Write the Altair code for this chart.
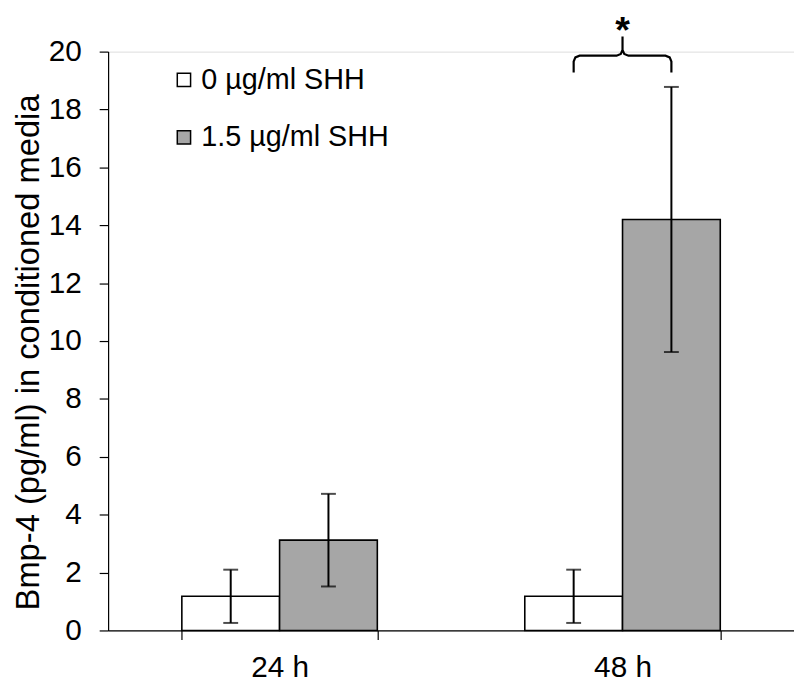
import altair as alt
import pandas as pd

# ---- data ----
times = ["24 h", "48 h"]
treatments = ["0 µg/ml SHH", "1.5 µg/ml SHH"]
mean_0 = [1.18, 1.18]
sd_0 = [0.92, 0.92]
mean_15 = [3.12, 14.2]
sd_15 = [1.6, 4.58]
bar_colors = ["#ffffff", "#a6a6a6"]
y_ticks = [0, 2, 4, 6, 8, 10, 12, 14, 16, 18, 20]

# significance brace over the 48 h pair (x in band units 0..2, y in pg/ml)
brace_x = [1.3575, 1.3575, 1.3625, 1.3748, 1.4827, 1.4950, 1.5, 1.5, 1.5, 1.5050, 1.5173, 1.6252, 1.6375, 1.6425, 1.6425]
brace_y = [19.28, 19.66, 19.80, 19.86, 19.86, 19.92, 20.06, 20.52, 20.06, 19.92, 19.86, 19.86, 19.80, 19.66, 19.28]
star_x = [1.5]
star_y = [20.3]
star_text = ["*"]

rows = []
for i, t in enumerate(times):
    rows.append({"time": t, "treat": treatments[0], "mean": mean_0[i],
                 "lo": mean_0[i] - sd_0[i], "hi": mean_0[i] + sd_0[i]})
    rows.append({"time": t, "treat": treatments[1], "mean": mean_15[i],
                 "lo": mean_15[i] - sd_15[i], "hi": mean_15[i] + sd_15[i]})
df = pd.DataFrame(rows)
brace_df = pd.DataFrame({"x": brace_x, "y": brace_y, "o": list(range(len(brace_x)))})
star_df = pd.DataFrame({"x": star_x, "y": star_y, "t": star_text})

FONT = "Liberation Sans"

x_enc = alt.X("time:N", sort=times, title=None,
              scale=alt.Scale(paddingInner=0.43, paddingOuter=0.215),
              axis=alt.Axis(labelAngle=0, labelFontSize=30, labelFont=FONT,
                            labelColor="black", tickBand="extent", tickSize=9,
                            tickColor="black", domainColor="black",
                            labelPadding=13, domainWidth=1.2, tickWidth=1.2))
xo_enc = alt.XOffset("treat:N", sort=treatments, scale=alt.Scale(paddingInner=0, paddingOuter=0))
y_scale = alt.Scale(domain=[0, 20], nice=False, zero=True)

bars = alt.Chart(df).mark_bar(stroke="black", strokeWidth=1.6).encode(
    x=x_enc,
    xOffset=xo_enc,
    y=alt.Y("mean:Q", scale=y_scale,
            title="Bmp-4 (pg/ml) in conditioned media",
            axis=alt.Axis(values=y_ticks, grid=False, labelFontSize=30, labelFont=FONT,
                          labelColor="black", tickSize=9, tickColor="black",
                          domainColor="black", labelPadding=18,
                          titleFontSize=33, titleFont=FONT, titleFontWeight="normal",
                          titleColor="black", titleX=-80, titleY=303, titleAngle=270,
                          titleAlign="center", titleBaseline="middle",
                          domainWidth=1.2, tickWidth=1.2)),
    color=alt.Color("treat:N", sort=treatments,
                    scale=alt.Scale(domain=treatments, range=bar_colors),
                    legend=alt.Legend(title=None, orient="none", legendX=62, legendY=14,
                                      symbolType="square", symbolSize=180,
                                      symbolStrokeColor="black", symbolStrokeWidth=1.5,
                                      labelFontSize=29, labelFont=FONT, labelColor="black",
                                      labelOffset=3, rowPadding=28, labelLimit=400)),
)

rules = alt.Chart(df).mark_rule(color="black", strokeWidth=2).encode(
    x=alt.X("time:N", sort=times), xOffset=xo_enc,
    y=alt.Y("lo:Q", scale=y_scale), y2="hi:Q",
)
caps_lo = alt.Chart(df).mark_tick(color="black", thickness=2, size=15).encode(
    x=alt.X("time:N", sort=times), xOffset=xo_enc, y=alt.Y("lo:Q", scale=y_scale),
)
caps_hi = alt.Chart(df).mark_tick(color="black", thickness=2, size=15).encode(
    x=alt.X("time:N", sort=times), xOffset=xo_enc, y=alt.Y("hi:Q", scale=y_scale),
)

main = alt.layer(bars, rules, caps_lo, caps_hi)

brace = alt.Chart(brace_df).mark_line(color="black", strokeWidth=2.2).encode(
    x=alt.X("x:Q", scale=alt.Scale(domain=[0, 2], nice=False), axis=None),
    y=alt.Y("y:Q", scale=y_scale),
    order="o:Q",
)
star = alt.Chart(star_df).mark_text(fontSize=38, font=FONT, fontWeight="bold", color="black",
                                    baseline="alphabetic", align="center").encode(
    x=alt.X("x:Q", scale=alt.Scale(domain=[0, 2], nice=False), axis=None),
    y=alt.Y("y:Q", scale=y_scale),
    text="t:N",
)
annot = alt.layer(brace, star)

chart = alt.layer(main, annot).resolve_scale(x="independent").properties(
    width=692, height=584,
    autosize=alt.AutoSizeParams(type="none"),
    padding={"left": 101, "top": 41, "right": 0, "bottom": 50},
).configure_view(stroke=None).configure(background="white")

chart.save("out.html", embed_options={"renderer": "svg", "actions": False})
